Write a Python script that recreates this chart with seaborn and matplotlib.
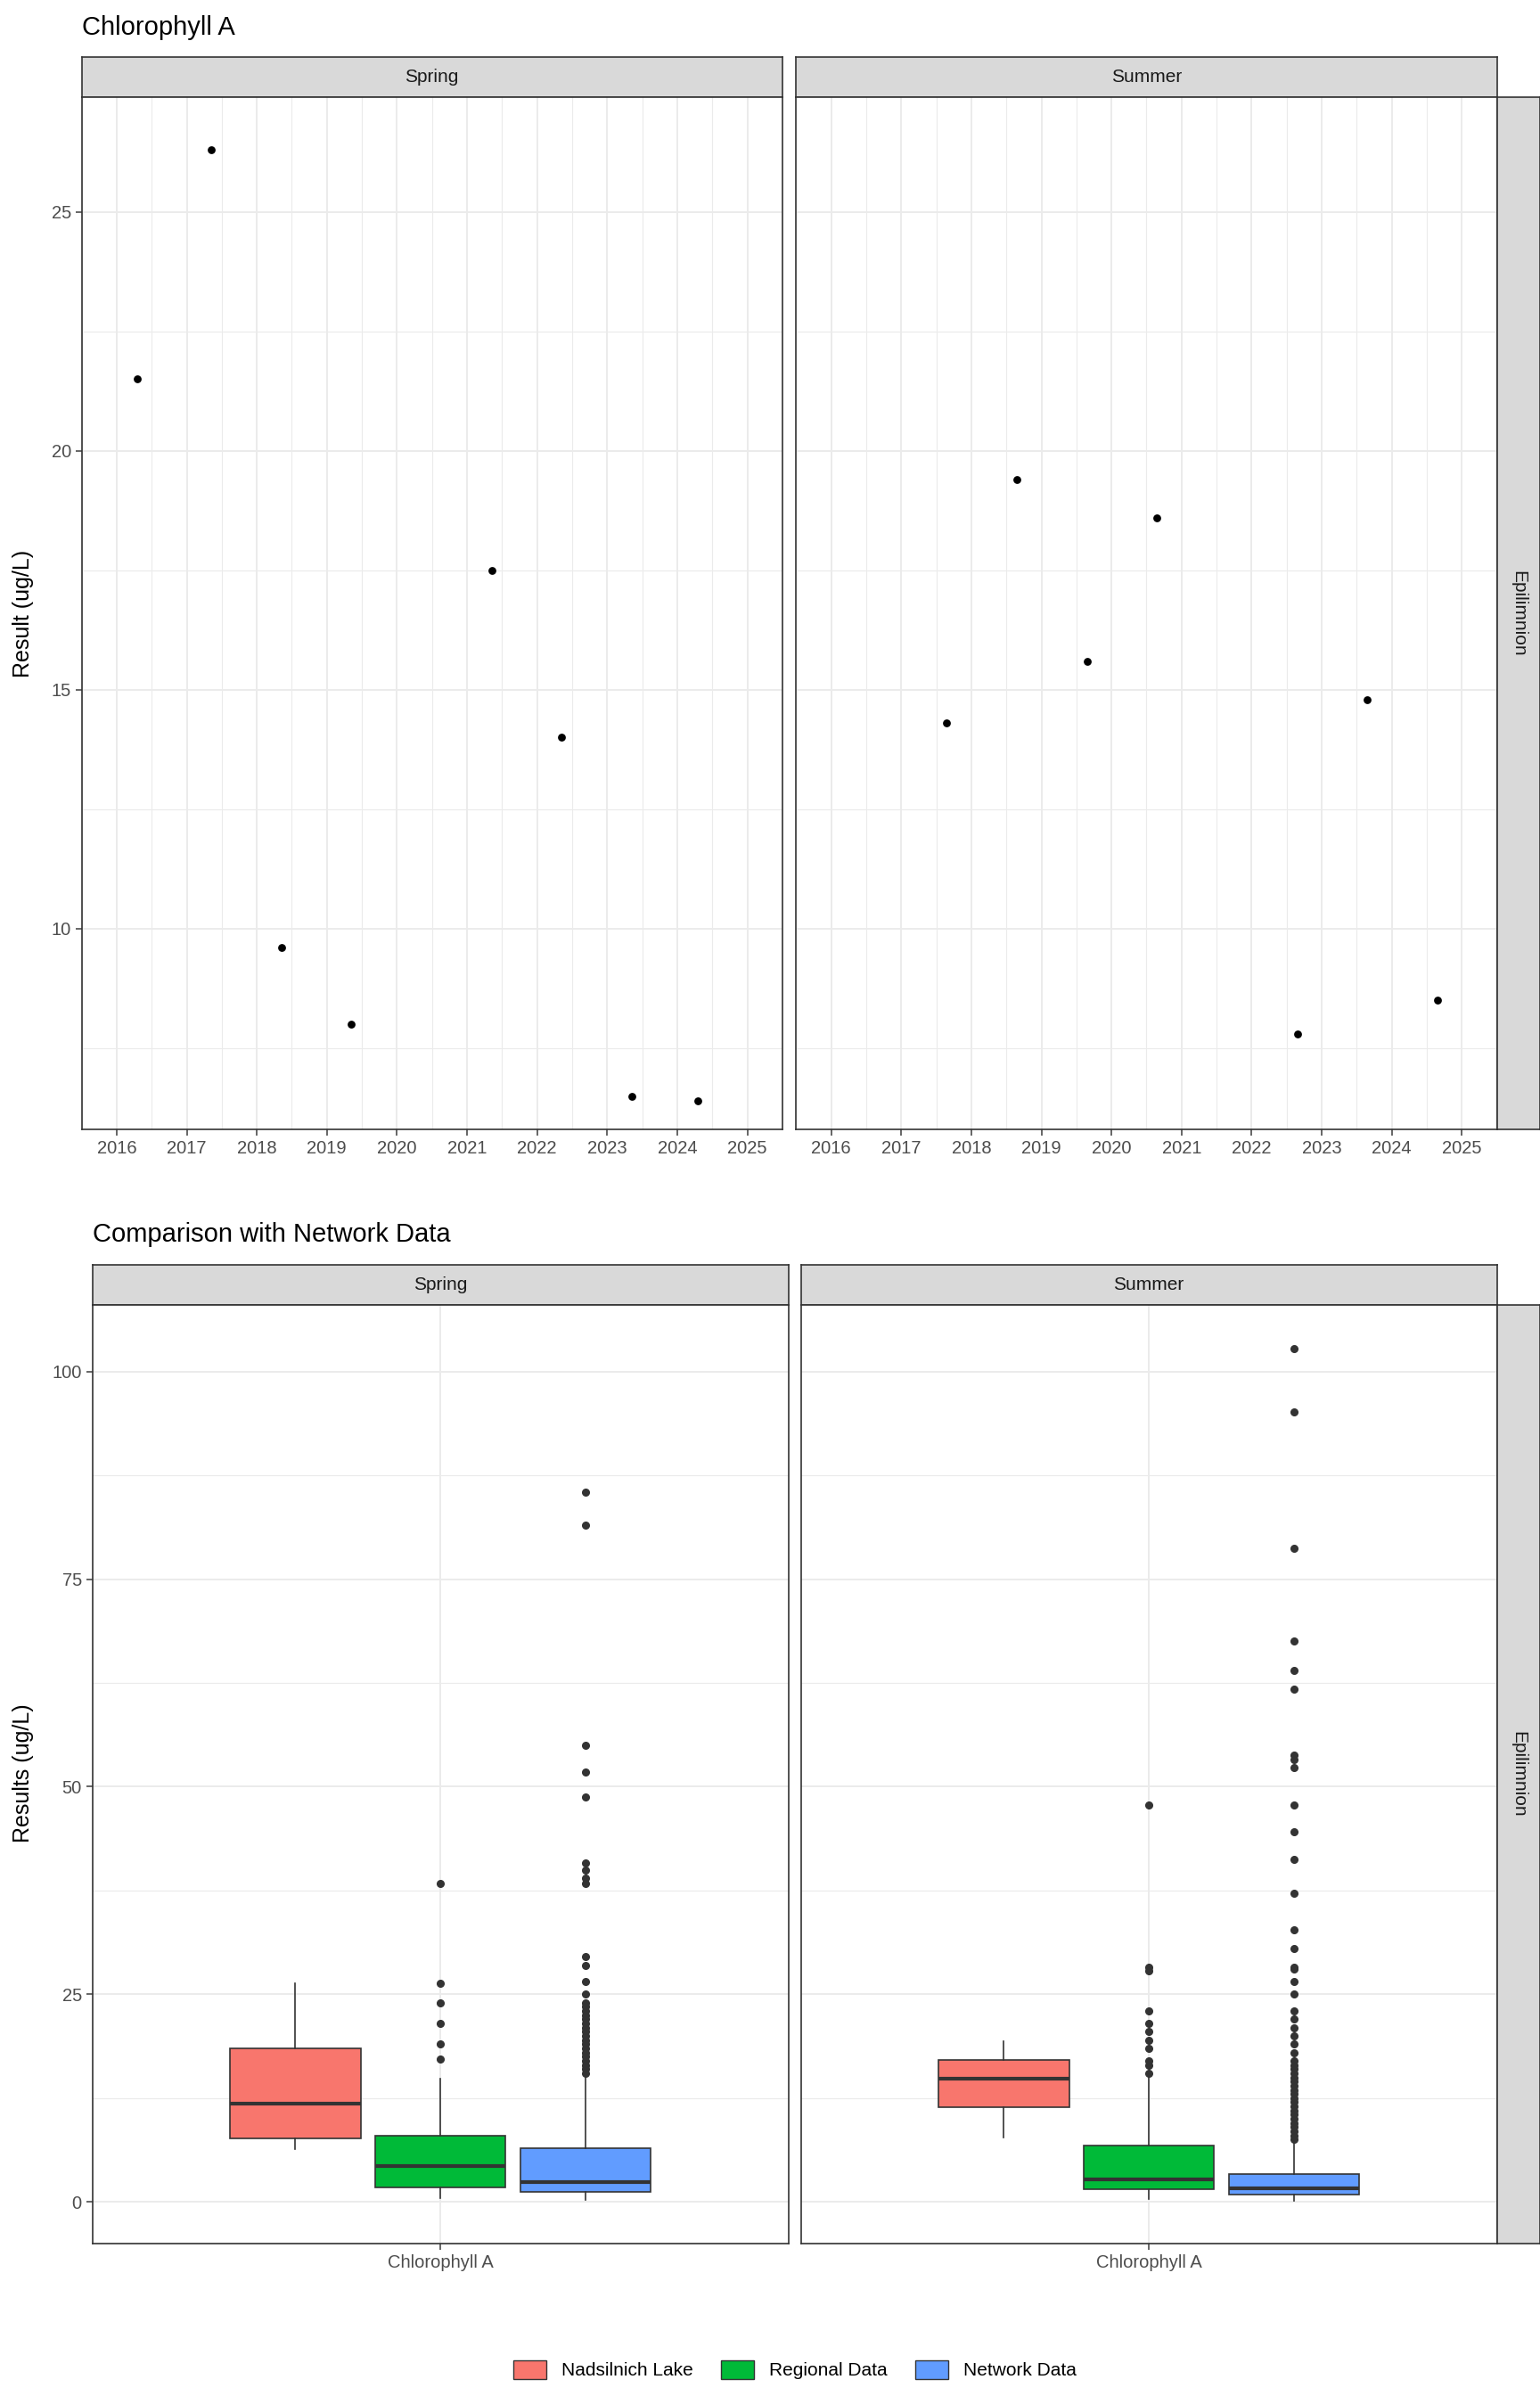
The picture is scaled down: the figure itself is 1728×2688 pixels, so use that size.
import numpy as np
import pandas as pd
import matplotlib
matplotlib.use("Agg")
import matplotlib.pyplot as plt
import seaborn as sns
from matplotlib.patches import Patch

plt.rcParams["font.family"] = "Liberation Sans"

# ---- data ----
spring_year = [2016.3, 2017.35, 2018.35, 2019.35, 2021.35, 2022.35, 2023.35, 2024.3]
spring_val = [21.5, 26.3, 9.6, 8.0, 17.5, 14.0, 6.5, 6.4]
summer_year = [2017.65, 2018.65, 2019.65, 2020.65, 2022.65, 2023.65, 2024.65]
summer_val = [14.3, 19.4, 15.6, 18.6, 7.8, 14.8, 8.5]
year_ticks = list(range(2016, 2026))

groups = ["Nadsilnich Lake", "Regional Data", "Network Data"]
colors = ["#F8766D", "#00BA38", "#619CFF"]
# (whislo, q1, med, q3, whishi) for regional / network
reg_spring = [0.5, 1.8, 4.3, 8.0, 14.8]
reg_spring_out = [17.2, 19.0, 21.5, 24.0, 26.3, 38.3]
net_spring = [0.2, 1.2, 2.4, 6.5, 15.0]
net_spring_out = [15.5, 16, 16.5, 17, 17.5, 18, 18.5, 19, 19.5, 20, 20.5, 21, 21.5, 22,
                  22.5, 23, 23.5, 24, 25, 26.5, 28.5, 29.5, 38.3, 39, 40, 40.8, 48.8,
                  51.8, 55, 81.5, 85.5]
reg_summer = [0.3, 1.5, 2.7, 6.8, 15.0]
reg_summer_out = [15.5, 16.5, 17, 18.5, 19.5, 20.5, 21.5, 23, 27.8, 28.3, 47.8]
net_summer = [0.1, 0.9, 1.6, 3.4, 7.3]
net_summer_out = [7.5, 8, 8.5, 9, 9.5, 10, 10.5, 11, 11.5, 12, 12.5, 13, 13.5, 14, 14.5,
                  15, 15.5, 16, 16.5, 17, 18, 19, 20, 21, 22, 23, 25, 26.5, 28, 28.3,
                  30.5, 32.8, 37.2, 41.2, 44.6, 47.8, 52.3, 53.3, 53.8, 61.7, 64, 67.5,
                  78.7, 95.1, 102.8]

W, H = 1000.0, 1555.0
fig = plt.figure(figsize=(17.28, 26.88), dpi=100)

def ax_at(x0, y0, x1, y1):
    return fig.add_axes([x0 / W, 1 - y1 / H, (x1 - x0) / W, (y1 - y0) / H])

def strip(x0, y0, x1, y1, text, rot=0):
    a = ax_at(x0, y0, x1, y1)
    a.set_facecolor("#D9D9D9")
    a.set_xticks([]); a.set_yticks([])
    for s in a.spines.values():
        s.set_color("#333333"); s.set_linewidth(1.2)
    a.text(0.5, 0.5, text, ha="center", va="center", rotation=rot, fontsize=15,
           color="#1A1A1A", transform=a.transAxes)

def style(a):
    a.set_facecolor("white")
    a.grid(True, which="major", color="#EBEBEB", lw=1.4)
    a.grid(True, which="minor", color="#EBEBEB", lw=0.8)
    a.set_axisbelow(True)
    for s in a.spines.values():
        s.set_color("#333333"); s.set_linewidth(1.2)
    a.tick_params(which="major", labelsize=14.5, colors="#4D4D4D", length=5, width=1.2)
    a.tick_params(which="minor", length=0)
    a.set_xlabel(""); a.set_ylabel("")

# ---- top panels ----
for (x0, x1, lab, yrs, vals) in [(53, 508, "Spring", spring_year, spring_val),
                                 (517, 972, "Summer", summer_year, summer_val)]:
    strip(x0, 37, x1, 63, lab)
    a = ax_at(x0, 63, x1, 733)
    sns.scatterplot(x=yrs, y=vals, ax=a, color="black", s=40, edgecolor="black", linewidth=0)
    a.set_xlim(2015.65, 2025.35)
    a.set_ylim(5.8, 27.4)
    a.set_xticks(year_ticks)
    a.set_xticks(np.arange(2015.5, 2025.6, 0.5), minor=True)
    a.set_yticks([10, 15, 20, 25])
    a.set_yticks([7.5, 12.5, 17.5, 22.5], minor=True)
    style(a)
    if lab == "Summer":
        a.set_yticklabels([])
        a.tick_params(axis="y", length=0)
strip(972, 63, 1000, 733, "Epilimnion", rot=-90)
fig.text(53 / W, 1 - 18 / H, "Chlorophyll A", fontsize=21, va="center", ha="left")
fig.text(15 / W, 1 - 398 / H, "Result (ug/L)", fontsize=18, rotation=90, va="center", ha="center")

# ---- bottom panels ----
def stats(five, out):
    return dict(whislo=five[0], q1=five[1], med=five[2], q3=five[3], whishi=five[4], fliers=out)

def lake_stats(v):
    v = np.array(v)
    q1, med, q3 = np.percentile(v, [25, 50, 75])
    iqr = q3 - q1
    inside = v[(v >= q1 - 1.5 * iqr) & (v <= q3 + 1.5 * iqr)]
    return dict(whislo=inside.min(), q1=q1, med=med, q3=q3, whishi=inside.max(),
                fliers=list(v[(v < q1 - 1.5 * iqr) | (v > q3 + 1.5 * iqr)]))

panels = [(60, 512, "Spring", [lake_stats(spring_val), stats(reg_spring, reg_spring_out),
                               stats(net_spring, net_spring_out)]),
          (520, 972, "Summer", [lake_stats(summer_val), stats(reg_summer, reg_summer_out),
                                stats(net_summer, net_summer_out)])]
for (x0, x1, lab, st) in panels:
    strip(x0, 821, x1, 847, lab)
    a = ax_at(x0, 847, x1, 1456)
    for i, (s, c) in enumerate(zip(st, colors)):
        a.bxp([s], positions=[(i - 1) * 0.25], widths=[0.225], patch_artist=True,
              showcaps=False,
              boxprops=dict(facecolor=c, edgecolor="#333333", lw=1.2),
              medianprops=dict(color="#333333", lw=3),
              whiskerprops=dict(color="#333333", lw=1.2),
              flierprops=dict(marker="o", markerfacecolor="#333333",
                              markeredgecolor="#333333", markersize=5.5))
    a.set_xlim(-0.6, 0.6)
    a.set_ylim(-5, 108)
    a.set_xticks([0]); a.set_xticklabels(["Chlorophyll A"])
    a.set_yticks([0, 25, 50, 75, 100])
    a.set_yticks([12.5, 37.5, 62.5, 87.5], minor=True)
    style(a)
    if lab == "Summer":
        a.set_yticklabels([])
        a.tick_params(axis="y", length=0)
strip(972, 847, 1000, 1456, "Epilimnion", rot=-90)
fig.text(60 / W, 1 - 801 / H, "Comparison with Network Data", fontsize=21, va="center", ha="left")
fig.text(15 / W, 1 - 1151 / H, "Results (ug/L)", fontsize=18, rotation=90, va="center", ha="center")

handles = [Patch(facecolor=c, edgecolor="#333333", label=g) for g, c in zip(groups, colors)]
fig.legend(handles=handles, loc="center", bbox_to_anchor=(516 / W, 1 - 1538 / H), ncol=3,
           frameon=False, fontsize=15, handlelength=1.8, handleheight=1.2, columnspacing=1.5)

fig.savefig("out.png", dpi=100, facecolor="white")
